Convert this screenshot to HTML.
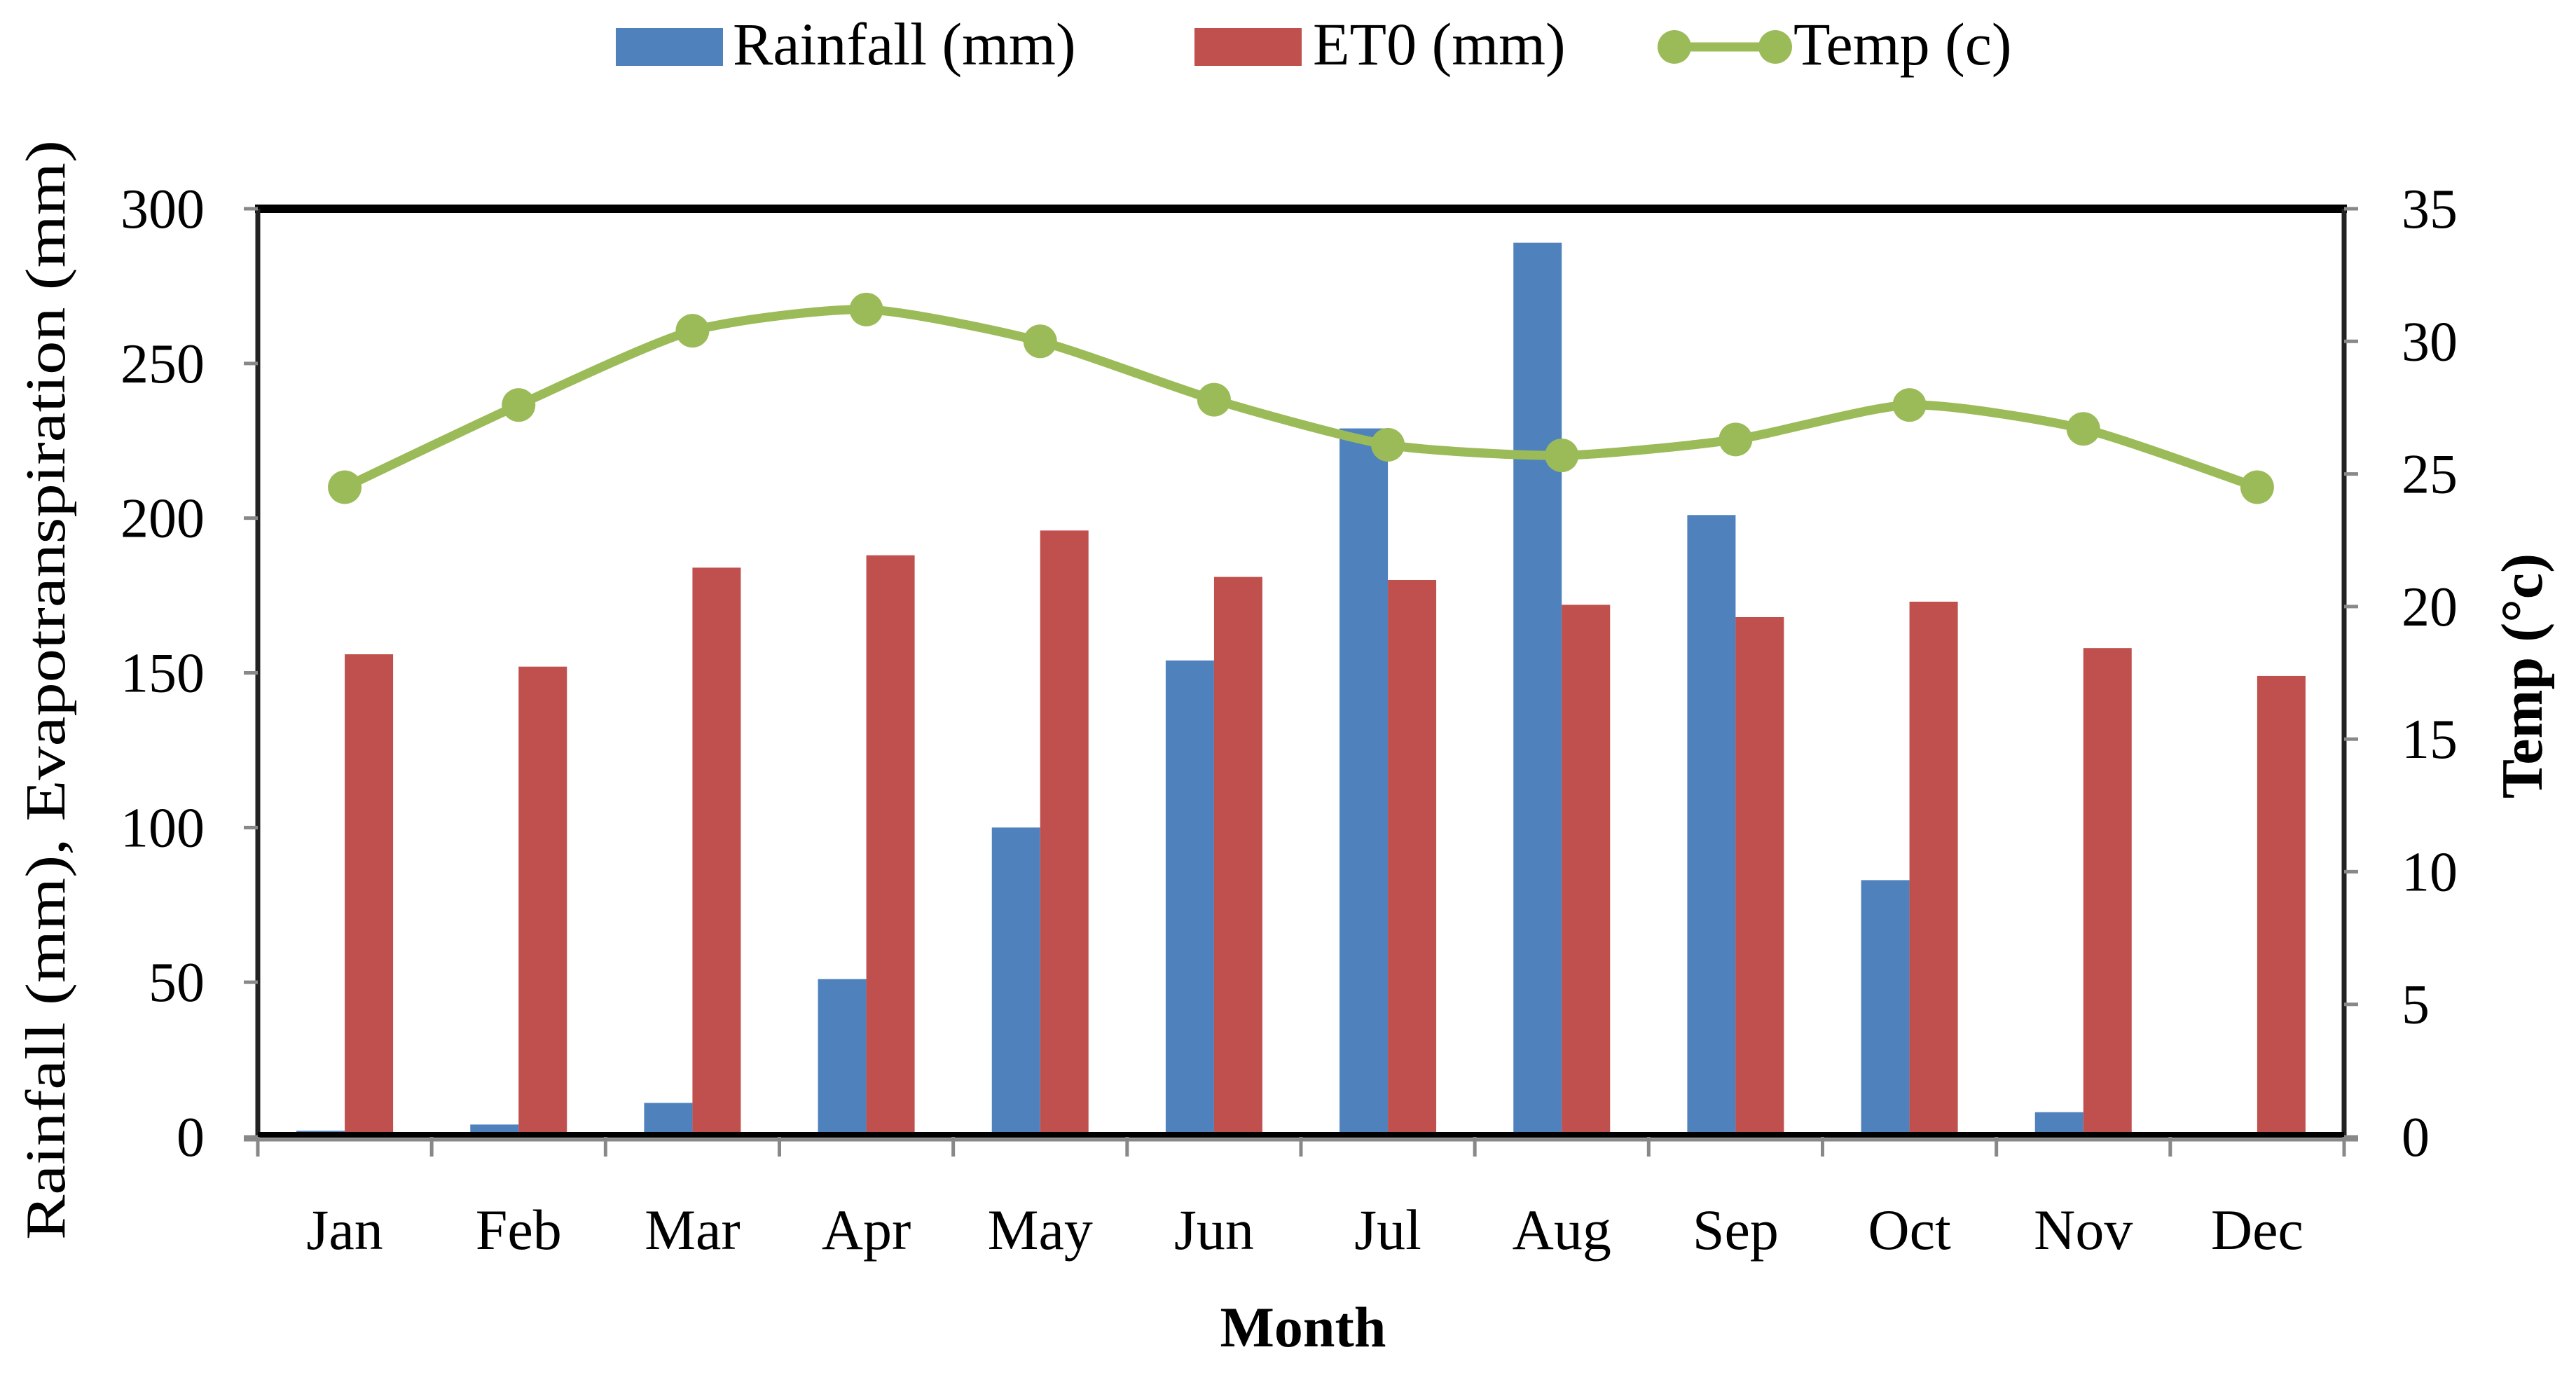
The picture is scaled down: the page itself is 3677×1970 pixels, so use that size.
<!DOCTYPE html>
<html><head><meta charset="utf-8">
<style>
html,body{margin:0;padding:0;background:#fff;}
svg{display:block;}
text{font-family:"Liberation Serif",serif;fill:#000;}
</style></head>
<body>
<svg id="chart" width="3677" height="1970" viewBox="0 0 3677 1970" xmlns="http://www.w3.org/2000/svg">
<g id="legend">
  <g>
    <rect x="879" y="40" width="153" height="54" fill="#4f81bd"/>
    <text x="1046" y="92" font-size="86">Rainfall (mm)</text>
  </g>
  <g>
    <rect x="1705" y="40" width="153" height="54" fill="#c0504d"/>
    <text x="1874" y="92" font-size="86">ET0 (mm)</text>
  </g>
  <g>
    <line x1="2390" y1="67" x2="2534" y2="67" stroke="#9bbb59" stroke-width="13"/>
    <circle cx="2390" cy="67" r="24" fill="#9bbb59"/>
    <circle cx="2534" cy="67" r="24" fill="#9bbb59"/>
    <text x="2560" y="92" font-size="86">Temp (c)</text>
  </g>
</g>
<g id="plot"></g>
<text transform="translate(92,985) rotate(-90)" text-anchor="middle" font-size="80" textLength="1570" lengthAdjust="spacingAndGlyphs">Rainfall (mm), Evapotranspiration (mm)</text>
<text transform="translate(3628,965) rotate(-90)" text-anchor="middle" font-size="84" font-weight="bold">Temp (°c)</text>
<text x="1860" y="1922" text-anchor="middle" font-size="82" font-weight="bold">Month</text>
</svg>
<script>
const categories = ["Jan","Feb","Mar","Apr","May","Jun","Jul","Aug","Sep","Oct","Nov","Dec"];
const rainfall = [2,4,11,51,100,154,229,289,201,83,8,0];
const et0 = [156,152,184,188,196,181,180,172,168,173,158,149];
const temp = [24.5,27.6,30.4,31.2,30.0,27.8,26.1,25.7,26.3,27.6,26.7,24.5];
const leftTicks = [0,50,100,150,200,250,300];
const rightTicks = [0,5,10,15,20,25,30,35];

const NS = "http://www.w3.org/2000/svg";
const L = 368, R = 3346, T = 298, B = 1623;
const leftMax = 300, rightMax = 35;
const band = (R - L) / categories.length;
const barW = 69;
function yL(v){ return B - v / leftMax * (B - T); }
function yR(v){ return B - v / rightMax * (B - T); }
function xC(i){ return L + band * (i + 0.5); }
const plot = document.getElementById("plot");
function mk(tag, attrs, parent){
  const e = document.createElementNS(NS, tag);
  for (const k in attrs) e.setAttribute(k, attrs[k]);
  (parent || plot).appendChild(e);
  return e;
}
categories.forEach((c, i) => {
  const r = mk("rect", {x: xC(i) - barW, y: yL(rainfall[i]), width: barW, height: B - yL(rainfall[i]), fill: "#4f81bd"});
  
  
  const e = mk("rect", {x: xC(i), y: yL(et0[i]), width: barW, height: B - yL(et0[i]), fill: "#c0504d"});
  
  
});
const frame = mk("g", {});


mk("line", {x1: L-4, y1: T, x2: R+4, y2: T, stroke: "#000", "stroke-width": 12}, frame);
mk("line", {x1: L, y1: T, x2: L, y2: B, stroke: "#222", "stroke-width": 7}, frame);
mk("line", {x1: R, y1: T, x2: R, y2: B, stroke: "#222", "stroke-width": 7}, frame);
mk("line", {x1: L, y1: B-3, x2: R, y2: B-3, stroke: "#000", "stroke-width": 8}, frame);
mk("line", {x1: L-20, y1: B+4, x2: R+20, y2: B+4, stroke: "#888", "stroke-width": 5}, frame);
leftTicks.forEach(v => {
  mk("line", {x1: L-20, y1: yL(v), x2: L, y2: yL(v), stroke: "#888", "stroke-width": 5});
  const t = mk("text", {x: 292, y: yL(v) + 27, "text-anchor": "end", "font-size": 80});
  t.textContent = v;
  
  
});
rightTicks.forEach(v => {
  mk("line", {x1: R, y1: yR(v), x2: R+20, y2: yR(v), stroke: "#888", "stroke-width": 5});
  const t = mk("text", {x: 3428, y: yR(v) + 27, "text-anchor": "start", "font-size": 80});
  t.textContent = v;
  
  
});
for (let i = 0; i <= categories.length; i++) {
  mk("line", {x1: L + band*i, y1: B, x2: L + band*i, y2: B + 28, stroke: "#888", "stroke-width": 5});
}
categories.forEach((c, i) => {
  const t = mk("text", {x: xC(i), y: 1783, "text-anchor": "middle", "font-size": 82});
  t.textContent = c;
  
  
});
const pts = temp.map((v, i) => [xC(i), yR(v)]);
let d = "M" + pts[0][0] + "," + pts[0][1];
for (let i = 0; i < pts.length - 1; i++) {
  const p0 = pts[Math.max(i-1,0)], p1 = pts[i], p2 = pts[i+1], p3 = pts[Math.min(i+2, pts.length-1)];
  const k = 1/9;
  d += " C" + (p1[0] + (p2[0]-p0[0])*k) + "," + (p1[1] + (p2[1]-p0[1])*k) + " " +
       (p2[0] - (p3[0]-p1[0])*k) + "," + (p2[1] - (p3[1]-p1[1])*k) + " " + p2[0] + "," + p2[1];
}
const line = mk("path", {d: d, fill: "none", stroke: "#9bbb59", "stroke-width": 13, "stroke-linejoin": "round"});


pts.forEach((p, i) => {
  const c = mk("circle", {cx: p[0], cy: p[1], r: 24, fill: "#9bbb59"});
  
  
});
</script>
</body></html>
